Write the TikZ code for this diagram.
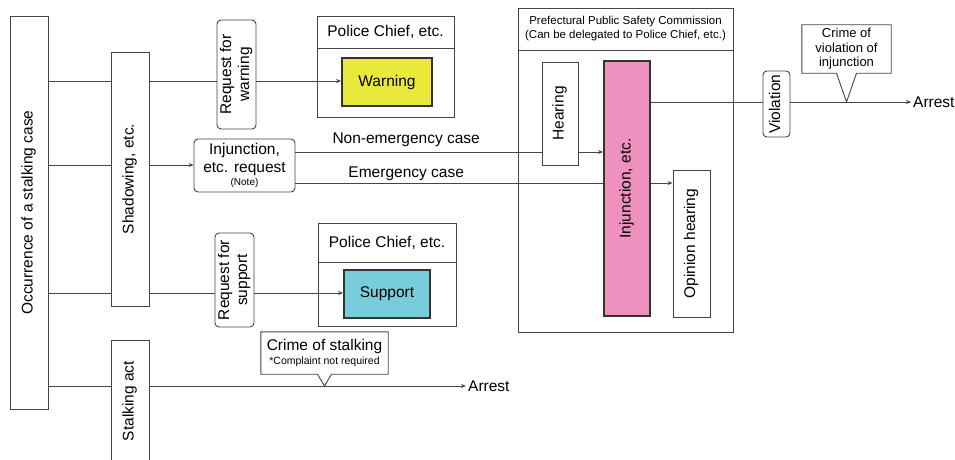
\documentclass[tikz,border=0pt]{standalone}
\usepackage{fontspec}
\usepackage{graphicx}
\setmainfont{Liberation Sans}
\usetikzlibrary{arrows.meta}

\definecolor{warnyellow}{HTML}{EBE83C}
\definecolor{supportcyan}{HTML}{78CDDA}
\definecolor{injpink}{HTML}{EE91BE}
\definecolor{linegray}{HTML}{454545}

\newcommand\uptext[1]{\rotatebox{90}{\begin{tabular}{@{}c@{}}#1\end{tabular}}}

\begin{document}
\begin{tikzpicture}[x=1pt, y=-1pt,
	every node/.style={font=\fontsize{15.5}{18}\selectfont, inner sep=0pt, align=center},
	box/.style={draw=linegray, fill=white, line width=0.9pt},
	round box/.style={box, rounded corners=4pt},
	strong box/.style={draw=black!80, line width=1.8pt},
	small text/.style={font=\fontsize{11.5}{14.5}\selectfont},
	link/.style={draw=linegray, line width=0.9pt},
	arrow/.style={link, -{Stealth[length=5pt, width=4pt]}}
	]
	\useasboundingbox (0,0) rectangle (955,460);
	% rows
	\coordinate (r1) at (0,81);
	\coordinate (r2) at (0,165);
	\coordinate (r3) at (0,293);
	\coordinate (r4) at (0,386);
	\coordinate (rn) at (0,152);
	\coordinate (re) at (0,183);
	\coordinate (rv) at (0,102);
	
	% containers
	\node[box, minimum width=137, minimum height=101] (chief1) at (385.5,66.5) {};
	\draw[link] (chief1.west |- 0,48) -- (chief1.east |- 0,48);
	\node (chief1 head) at (385.5,32) {Police Chief, etc.};
	\node[box, minimum width=138, minimum height=103] (chief2) at (387,274.5) {};
	\draw[link] (chief2.west |- 0,262) -- (chief2.east |- 0,262);
	\node (chief2 head) at (387,242.5) {Police Chief, etc.};
	\node[box, minimum width=215, minimum height=324] (psc) at (625.5,170) {};
	\draw[link] (psc.west |- 0,50) -- (psc.east |- 0,50);
	\node[small text] (psc head) at (625.5,28.5) {Prefectural Public Safety Commission\\(Can be delegated to Police Chief, etc.)};
	
	% boxes
	\node[box, minimum width=38, minimum height=393] (occur) at (29,212.5) {\uptext{Occurrence of a stalking case}};
	\node[box, minimum width=38, minimum height=254] (shadow) at (130,179) {\uptext{Shadowing, etc.}};
	\node[box, minimum width=38, minimum height=122] (stalk) at (130,401) {\uptext{Stalking act}};
	\node[round box, minimum width=39, minimum height=109] (reqw) at (236.5,74.5) {\uptext{Request for\\warning}};
	\node[round box, minimum width=101, minimum height=53] (injreq) at (244.5,165.5) {Injunction,\\etc. request\\[-5pt]{\fontsize{10}{11}\selectfont (Note)}};
	\node[round box, minimum width=39, minimum height=94] (reqs) at (234.5,280) {\uptext{Request for\\support}};
	\node[strong box, fill=warnyellow, minimum width=90, minimum height=48] (warn) at (387,82) {Warning};
	\node[strong box, fill=supportcyan, minimum width=86, minimum height=48] (support) at (387,294) {Support};
	\node[box, minimum width=36, minimum height=103] (hear) at (560,113.5) {\uptext{Hearing}};
	\node[strong box, fill=injpink, minimum width=46, minimum height=255] (inj) at (627,188.5) {\uptext{Injunction, etc.}};
	\node[box, minimum width=37, minimum height=147] (opin) at (691.5,243.5) {\uptext{Opinion hearing}};
	\node[round box, minimum width=27, minimum height=66] (viol) at (776.5,104) {\uptext{Violation}};
	\node[inner xsep=2pt, anchor=west] (arrest1) at (911,102) {Arrest};
	\node[inner xsep=2pt, anchor=west] (arrest2) at (466,386) {Arrest};
	
	% callouts
	\node[font=\fontsize{13}{14.5}\selectfont, minimum width=89, minimum height=48] (cviol) at (846.5,49) {Crime of\\violation of\\injunction};
	\draw[link] (cviol.north west) -- (cviol.north east) -- (cviol.south east) -- ([xshift=10]cviol.south) -- (cviol.south |- rv) -- ([xshift=-10]cviol.south) -- (cviol.south west) -- cycle;
	\node[minimum width=127, minimum height=42] (cstalk) at (324.5,353) {Crime of stalking\\[-4pt]{\fontsize{10.5}{12}\selectfont *Complaint not required}};
	\draw[link] (cstalk.north west) -- (cstalk.north east) -- (cstalk.south east) -- ([xshift=7]cstalk.south) -- (cstalk.south |- r4) -- ([xshift=-7]cstalk.south) -- (cstalk.south west) -- cycle;
	
	% connectors
	\draw[link] (occur.east |- r1) -- (shadow.west |- r1);
	\draw[link] (occur.east |- r2) -- (shadow.west |- r2);
	\draw[link] (occur.east |- r3) -- (shadow.west |- r3);
	\draw[link] (occur.east |- r4) -- (stalk.west |- r4);
	\draw[link] (shadow.east |- r1) -- (reqw.west |- r1);
	\draw[arrow] (reqw.east |- r1) -- (warn.west |- r1);
	\draw[arrow] (shadow.east |- r2) -- (injreq.west |- r2);
	\draw[link] (shadow.east |- r3) -- (reqs.west |- r3);
	\draw[arrow] (reqs.east |- r3) -- (support.west |- r3);
	\draw[link] (injreq.east |- rn) -- node[pos=0.45, above=5pt] {Non-emergency case} (hear.west |- rn);
	\draw[arrow] (hear.east |- rn) -- (inj.west |- rn);
	\draw[link] (injreq.east |- re) -- node[pos=0.36, above=1.5pt] {Emergency case} (inj.west |- re);
	\draw[arrow] (inj.east |- re) -- (opin.west |- re);
	\draw[link] (inj.east |- rv) -- (viol.west |- rv);
	\draw[arrow] (viol.east |- rv) -- (arrest1.west);
	\draw[arrow] (stalk.east |- r4) -- (arrest2.west);
\end{tikzpicture}
\end{document}
